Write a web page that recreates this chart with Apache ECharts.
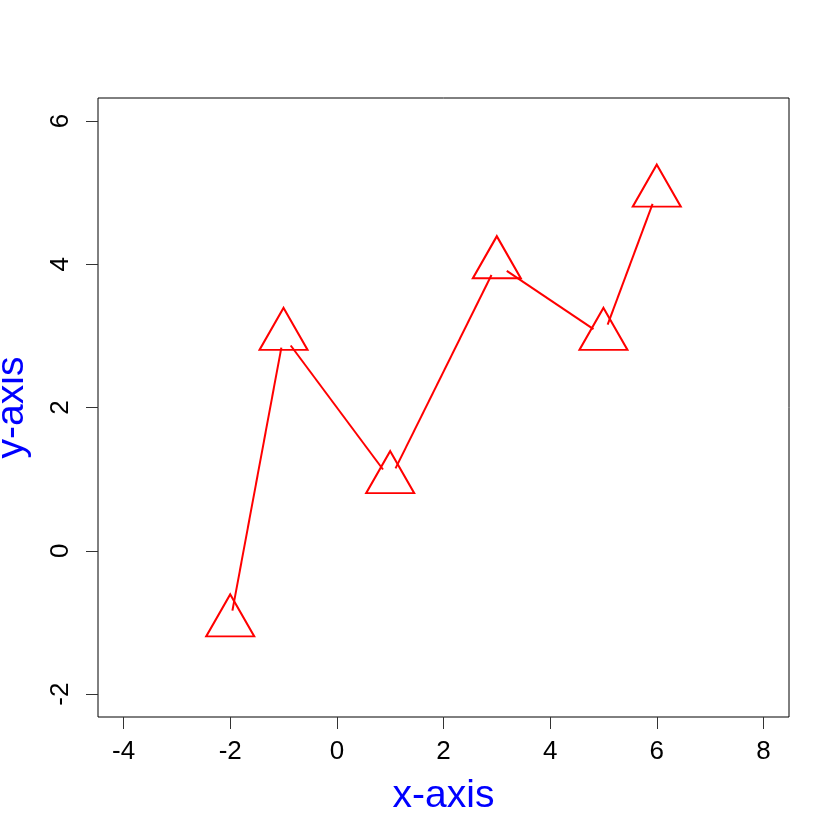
<!DOCTYPE html>
<html>
<head>
<meta charset="utf-8">
<script src="https://cdn.jsdelivr.net/npm/echarts@6/dist/echarts.min.js"></script>
<style>html,body{margin:0;padding:0;background:#fff}#c{width:840px;height:840px}</style>
</head>
<body>
<div id="c"></div>
<script>
const xValues = [-2, -1, 1, 3, 5, 6];
const yValues = [-1, 3, 1, 4, 3, 5];
const xTicks = [-4, -2, 0, 2, 4, 6, 8];
const yTicks = [-2, 0, 2, 4, 6];
const xName = 'x-axis';
const yName = 'y-axis';

const points = xValues.map((x, i) => [x, yValues[i]]);
const segs = [];
for (let i = 0; i < points.length - 1; i++) {
  segs.push([points[i][0], points[i][1], points[i + 1][0], points[i + 1][1]]);
}
const GAP = 12;
const FONT = 'Liberation Sans, Arial, sans-serif';

const chart = echarts.init(document.getElementById('c'), null, {renderer: 'canvas'});
chart.setOption({
  animation: false,
  backgroundColor: '#fff',
  grid: {left: 98, top: 98, right: 51, bottom: 123, containLabel: false, outerBoundsMode: 'none', show: true, borderColor: '#000', borderWidth: 1, backgroundColor: 'transparent'},
  xAxis: {
    type: 'value', min: -4.48, max: 8.48,
    splitLine: {show: false},
    axisLine: {show: false, onZero: false},
    axisTick: {show: true, length: 12, lineStyle: {color: '#333', width: 1}, customValues: xTicks},
    axisLabel: {color: '#000', fontSize: 26, fontFamily: FONT, margin: 22, customValues: xTicks, formatter: v => String(v)},
    name: xName, nameLocation: 'middle', nameGap: 60,
    nameTextStyle: {color: '#0000FF', fontSize: 39, fontFamily: FONT}
  },
  yAxis: {
    type: 'value', min: -2.32, max: 6.32,
    splitLine: {show: false},
    axisLine: {show: false, onZero: false},
    axisTick: {show: true, length: 12, lineStyle: {color: '#333', width: 1}, customValues: yTicks},
    axisLabel: {color: '#000', fontSize: 26, fontFamily: FONT, margin: 24, rotate: 90, customValues: yTicks, formatter: v => String(v)},
    name: yName, nameLocation: 'middle', nameGap: 66,
    nameTextStyle: {color: '#0000FF', fontSize: 39, fontFamily: FONT}
  },
  series: [
    {
      type: 'custom',
      data: segs,
      renderItem: function (params, api) {
        const p1 = api.coord([api.value(0), api.value(1)]);
        const p2 = api.coord([api.value(2), api.value(3)]);
        const dx = p2[0] - p1[0], dy = p2[1] - p1[1];
        const L = Math.sqrt(dx * dx + dy * dy);
        const ux = dx / L, uy = dy / L;
        return {
          type: 'line',
          shape: {x1: p1[0] + ux * GAP, y1: p1[1] + uy * GAP, x2: p2[0] - ux * GAP, y2: p2[1] - uy * GAP},
          style: {stroke: '#FF0000', lineWidth: 2}
        };
      },
      encode: {x: [0, 2], y: [1, 3]},
      z: 2
    },
    {
      type: 'scatter',
      data: points,
      symbol: 'triangle',
      symbolSize: [48, 42],
      symbolOffset: [0, -7],
      itemStyle: {color: 'transparent', borderColor: '#FF0000', borderWidth: 2, opacity: 1},
      emphasis: {disabled: true},
      z: 3
    }
  ]
});
</script>
</body>
</html>
